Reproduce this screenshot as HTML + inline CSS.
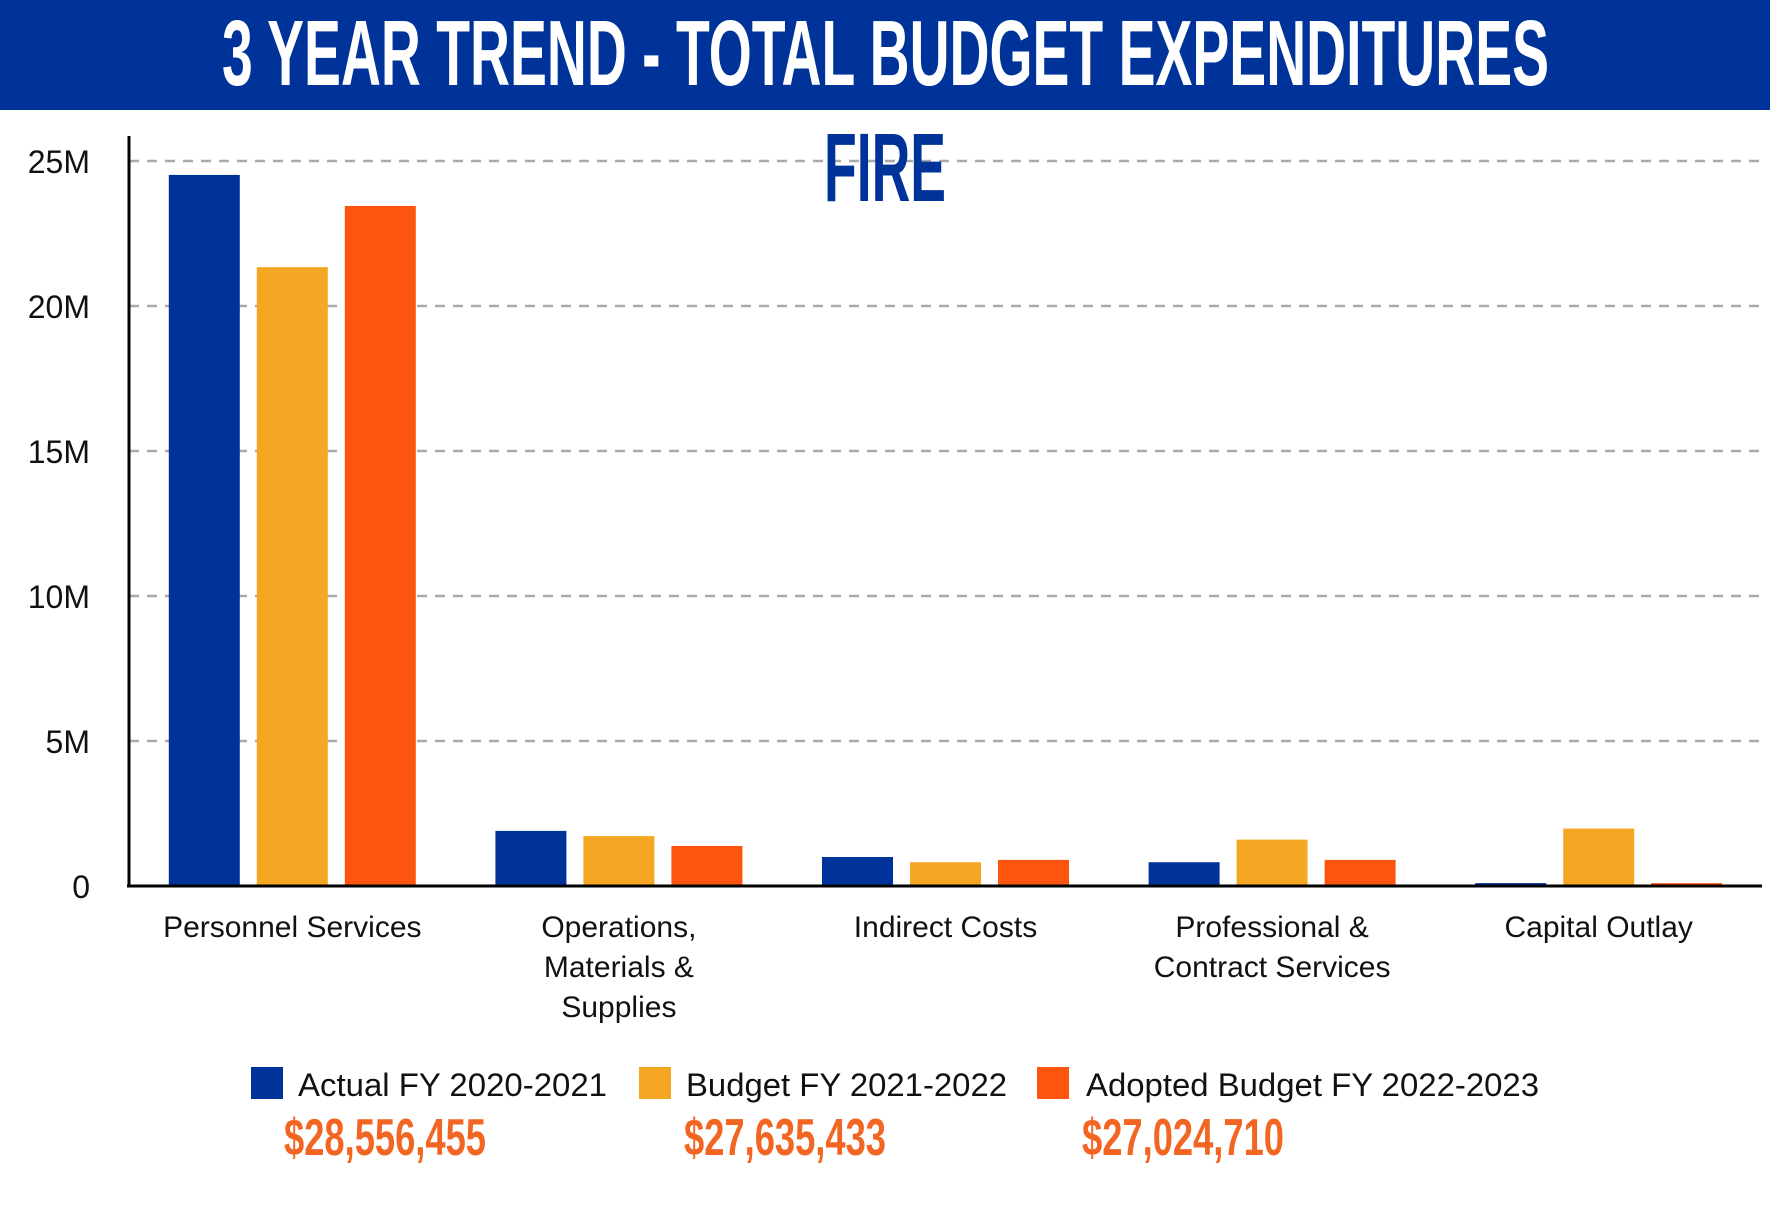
<!DOCTYPE html>
<html><head><meta charset="utf-8"><style>
html,body{margin:0;padding:0;background:#fff;}
svg{display:block;font-family:"Liberation Sans",sans-serif;}
.cond{font-family:"Liberation Sans Narrow","Liberation Sans",sans-serif;font-weight:bold;}
</style></head><body>
<svg id="chart" width="1770" height="1221" viewBox="0 0 1770 1221" xmlns="http://www.w3.org/2000/svg">
<rect x="0" y="0" width="1770" height="110" fill="#003399"/>
<text class="cond" x="222" y="85" font-size="93" fill="#fff" textLength="1327" lengthAdjust="spacingAndGlyphs">3 YEAR TREND - TOTAL BUDGET EXPENDITURES</text>
<g id="grid"></g>
<g id="bars"></g>
<text class="cond" x="824" y="201" font-size="97" fill="#003399" textLength="122" lengthAdjust="spacingAndGlyphs">FIRE</text>
<line x1="129" y1="136" x2="129" y2="886" stroke="#000" stroke-width="3"/>
<line x1="127" y1="886" x2="1762" y2="886" stroke="#000" stroke-width="3"/>
<g id="ylabels"></g>
<g id="xlabels"></g>
<g id="legend"></g>
</svg>
<script>
const categories = [["Personnel Services"],["Operations,","Materials &","Supplies"],["Indirect Costs"],["Professional &","Contract Services"],["Capital Outlay"]];
const actual2021 = [24.52, 1.9, 1.0, 0.82, 0.1];
const budget2022 = [21.34, 1.72, 0.82, 1.6, 1.98];
const adopted2023 = [23.45, 1.38, 0.9, 0.9, 0.1];
const yTicks = [0, 5, 10, 15, 20, 25];
const yTickLabels = ["0","5M","10M","15M","20M","25M"];
const seriesNames = ["Actual FY 2020-2021","Budget FY 2021-2022","Adopted Budget FY 2022-2023"];
const seriesTotals = ["$28,556,455","$27,635,433","$27,024,710"];

const NS = "http://www.w3.org/2000/svg";
const colors = ["#003399","#f5a623","#fd5410"];
const y0 = 886, pxPerM = 29.0, plotL = 129, plotR = 1762;
const yScale = v => y0 - v * pxPerM;
const groupW = (plotR - plotL) / categories.length;
const xCenter = i => plotL + groupW * (i + 0.5);
const barW = 71, pitch = 88;
function mk(tag, attrs, parent) { const e = document.createElementNS(NS, tag); for (const k in attrs) e.setAttribute(k, attrs[k]); parent.appendChild(e); return e; }

const grid = document.getElementById('grid');
const yl = document.getElementById('ylabels');
yTicks.forEach((t, i) => {
  if (t > 0) {
    const g = mk('line', {x1: plotL, x2: plotR, y1: yScale(t), y2: yScale(t), stroke: '#aaa', 'stroke-width': 2.5, 'stroke-dasharray': '10 8'}, grid);
    
    
  }
  const tx = mk('text', {x: 90, y: yScale(t) + 12, 'font-size': 32, 'text-anchor': 'end', fill: '#111'}, yl);
  tx.textContent = yTickLabels[i];
  
  
});

const series = [actual2021, budget2022, adopted2023];
const bars = document.getElementById('bars');
series.forEach((s, si) => {
  s.forEach((v, ci) => {
    const cx = xCenter(ci) + (si - 1) * pitch;
    const r = mk('rect', {x: cx - barW / 2, y: yScale(v), width: barW, height: y0 - yScale(v), fill: colors[si]}, bars);
    
    
  });
});

const xl = document.getElementById('xlabels');
categories.forEach((lines, ci) => {
  lines.forEach((ln, li) => {
    const t = mk('text', {x: xCenter(ci), y: 937 + li * 40, 'font-size': 30, 'text-anchor': 'middle', fill: '#111'}, xl);
    t.textContent = ln;
    
    
  });
});

const lg = document.getElementById('legend');
const swX = [251, 639, 1037], txX = [298, 686, 1086], amX = [284, 684, 1082], txW = [309, 321, 453];
seriesNames.forEach((n, i) => {
  const sw = mk('rect', {x: swX[i], y: 1067, width: 32, height: 32, fill: colors[i]}, lg);
  
  
  const t = mk('text', {x: txX[i], y: 1096, 'font-size': 32, fill: '#111', textLength: txW[i], lengthAdjust: 'spacingAndGlyphs'}, lg);
  t.textContent = n;
  
  
  const a = mk('text', {x: amX[i], y: 1155, 'font-size': 52, fill: '#f26522', class: 'cond', textLength: 202, lengthAdjust: 'spacingAndGlyphs'}, lg);
  a.textContent = seriesTotals[i];
  
  
});
</script>
</body></html>
